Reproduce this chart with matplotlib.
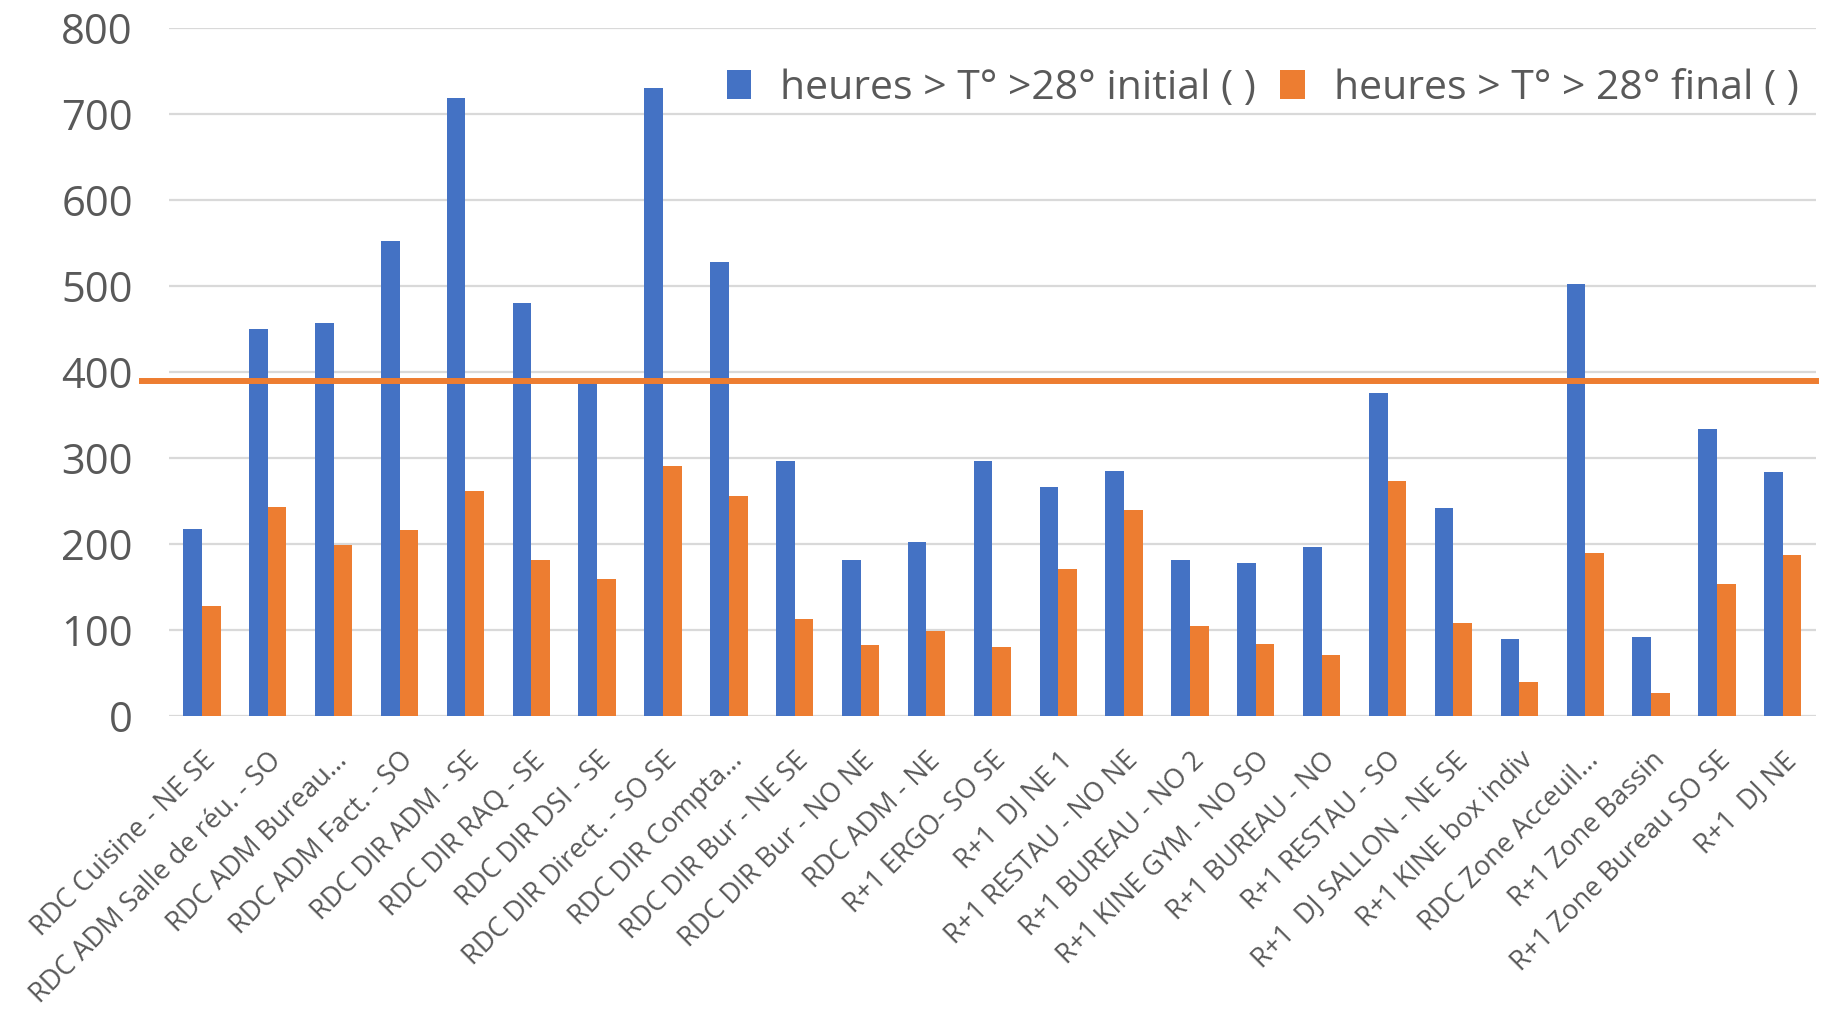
import matplotlib.pyplot as plt
import numpy as np

# --- données ---
pieces = [
    "RDC Cuisine - NE SE", "RDC ADM Salle de réu. - SO", "RDC ADM Bureau...",
    "RDC ADM Fact. - SO", "RDC DIR ADM - SE", "RDC DIR RAQ - SE",
    "RDC DIR DSI - SE", "RDC DIR Direct. - SO SE", "RDC DIR Compta...",
    "RDC DIR Bur - NE SE", "RDC DIR Bur - NO NE", "RDC ADM - NE",
    "R+1 ERGO- SO SE", "R+1  DJ NE 1", "R+1 RESTAU - NO NE",
    "R+1 BUREAU - NO 2", "R+1 KINE GYM - NO SO", "R+1 BUREAU - NO",
    "R+1 RESTAU - SO", "R+1  DJ SALLON - NE SE", "R+1 KINE box indiv",
    "RDC Zone Acceuil...", "R+1 Zone Bassin", "R+1 Zone Bureau SO SE",
    "R+1  DJ NE",
]
heures_initial = [218, 450, 457, 552, 719, 480, 388, 730, 528, 297, 181, 202,
                  296, 266, 285, 181, 178, 197, 376, 242, 90, 502, 92, 334, 284]
heures_final = [128, 243, 199, 216, 262, 181, 159, 291, 256, 113, 83, 99,
                80, 171, 240, 105, 84, 71, 273, 108, 39, 190, 27, 153, 187]
seuil = 390

label_initial = "heures > T° >28° initial ( )"
label_final = "heures > T° > 28° final ( )"

BLEU = "#4472C4"
ORANGE = "#ED7D31"
GRIS = "#595959"

plt.rcParams['font.family'] = ['Open Sans', 'DejaVu Sans']

fig = plt.figure(figsize=(18.23, 10.09), dpi=100)
ax = fig.add_axes([0.0927, 0.2904, 0.9033, 0.6818])

x = np.arange(len(pieces))
w = 0.283
ax.bar(x - w / 2, heures_initial, width=w, color=BLEU, label=label_initial, zorder=2)
ax.bar(x + w / 2, heures_final, width=w, color=ORANGE, label=label_final, zorder=2)

# ligne de seuil
ax.axhline(seuil, xmin=-0.0164, xmax=1.0, color=ORANGE, lw=4.3, clip_on=False, zorder=3)

ax.set_xlim(-0.5, len(pieces) - 0.5)
ax.set_ylim(0, 800)
ax.set_yticks(range(0, 801, 100))
ax.yaxis.grid(True, color="#D9D9D9", lw=1.6, zorder=0)
ax.set_axisbelow(True)
for s in ax.spines.values():
    s.set_visible(False)
ax.tick_params(axis='both', length=0, colors=GRIS)
ax.tick_params(axis='y', labelsize=30, pad=26)

ax.set_xticks(x)
ax.set_xticklabels(pieces, rotation=45, ha='right', rotation_mode='anchor',
                   fontsize=19.5, color=GRIS)
ax.tick_params(axis='x', pad=22)

leg = ax.legend(loc='upper right', bbox_to_anchor=(1.012, 0.995), ncol=2, frameon=False,
                fontsize=29.5, handlelength=0.6, handleheight=0.7,
                handletextpad=0.7, columnspacing=0.6, labelcolor=GRIS)

plt.savefig("out.png", dpi=100)
